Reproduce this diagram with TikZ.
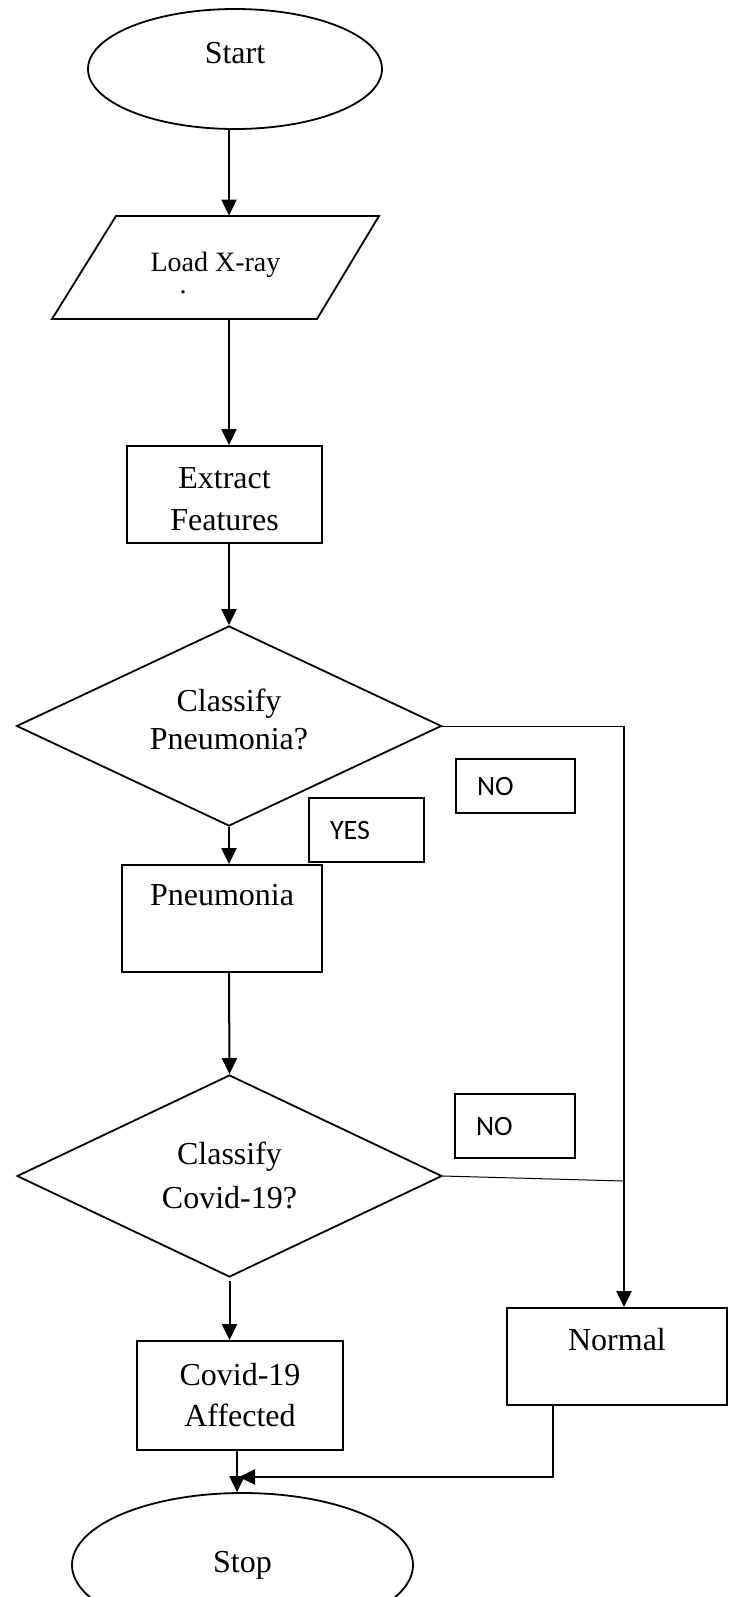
\documentclass[tikz,border=0pt]{standalone}
\usepackage{fontspec}
\setmainfont{Liberation Serif}
\newfontfamily\sansfont{Carlito}
\usetikzlibrary{shapes.geometric,arrows.meta}
\begin{document}
\begin{tikzpicture}[x=0.5pt,y=-0.5pt,
  shapeline/.style={draw=black,line width=0.9pt},
  boxnode/.style={shapeline,rectangle,inner sep=0pt,font=\fontsize{16}{21}\selectfont,align=center},
  dec/.style={shapeline,diamond,inner sep=0pt,aspect=2.125,align=center},
  term/.style={shapeline,ellipse,inner sep=0pt,font=\fontsize{16}{21}\selectfont},
  tagbox/.style={draw=black,line width=0.9pt,rectangle,inner ysep=0pt,inner xsep=10.5pt,font=\sansfont\fontsize{14}{17}\selectfont,align=left},
  arr/.style={line width=1pt,-{Triangle[length=8pt,width=7.5pt]}},
  thinline/.style={line width=0.5pt}
]
\fill[white] (0,0) rectangle (729,1597);
\useasboundingbox (0,0) rectangle (729,1597);

% nodes
\node[term, minimum width=147pt, minimum height=60pt, text height=11pt, text depth=16.4pt] (start) at (235,69) {Start};
\node[rectangle, inner sep=0pt, minimum width=131.5pt, minimum height=51.5pt, font=\fontsize{14}{17}\selectfont, text height=9.6pt, text depth=6.1pt] (load) at (215.5,267.5) {Load X-ray};
\draw[shapeline] (116,216) -- (379,216) -- (317,319) -- (52,319) -- cycle;
\node[font=\fontsize{14}{17}\selectfont, inner sep=0pt, anchor=base] (dot) at (183,293) {.};
\node[boxnode, minimum width=97.5pt, minimum height=48.5pt, text height=36pt] (ext) at (224.5,494.5) {Extract\\Features};
\node[dec, minimum width=212.5pt, minimum height=100pt, font=\fontsize{16}{19}\selectfont, text depth=6.6pt] (d1) at (229,726) {Classify\\Pneumonia?};
\node[boxnode, minimum width=100pt, minimum height=53.5pt, text height=11pt, text depth=23.9pt] (pneu) at (222,918.5) {Pneumonia};
\node[dec, minimum width=212.5pt, minimum height=101pt, font=\fontsize{16}{22}\selectfont, text depth=0.5pt] (d2) at (229.5,1176) {Classify\\Covid-19?};
\node[boxnode, minimum width=103pt, minimum height=54.5pt, font=\fontsize{16}{20.5}\selectfont] (covid) at (240,1395.5) {Covid-19\\Affected};
\node[boxnode, minimum width=110pt, minimum height=48.5pt, text height=11pt, text depth=16.9pt] (normal) at (617,1356.5) {Normal};
\node[term, minimum width=170.5pt, minimum height=72pt] (stop) at (242.5,1565) {Stop};

\node[tagbox, text width=36.5pt, minimum height=32pt] (yes) at (366.5,830) {YES};
\node[tagbox, text width=38.5pt, minimum height=27pt] (no1) at (515.5,786) {NO};
\node[tagbox, text width=39pt, minimum height=32pt] (no2) at (515,1126) {NO};

% helper coordinates
\coordinate (colA) at (229,0);
\coordinate (colB) at (237,0);
\coordinate (r1) at (624,726);
\coordinate (r2) at (624,1181);
\coordinate (nb) at (553,0);
\coordinate (join) at (239,1477);

% connectors
\draw[arr] (start.south -| colA) -- (load.north -| colA);
\draw[arr] (load.south -| colA) -- (ext.north -| colA);
\draw[arr] (ext.south -| colA) -- (d1.north);
\draw[arr] (d1.south) -- (pneu.north -| colA);
\draw[arr] (pneu.south -| colA) -- (d2.north);
\draw[arr] ([yshift=-1.5pt]d2.south) -- (covid.north -| d2.south);
\draw[arr] (covid.south -| colB) -- (stop.north -| colB);
\draw[thinline] (d1.east) -- (r1);
\draw[arr] (r1) -- (normal.north -| r1);
\draw[thinline] (d2.east) -- (r2);
\draw[arr] (normal.south -| nb) |- (join);
\end{tikzpicture}
\end{document}
